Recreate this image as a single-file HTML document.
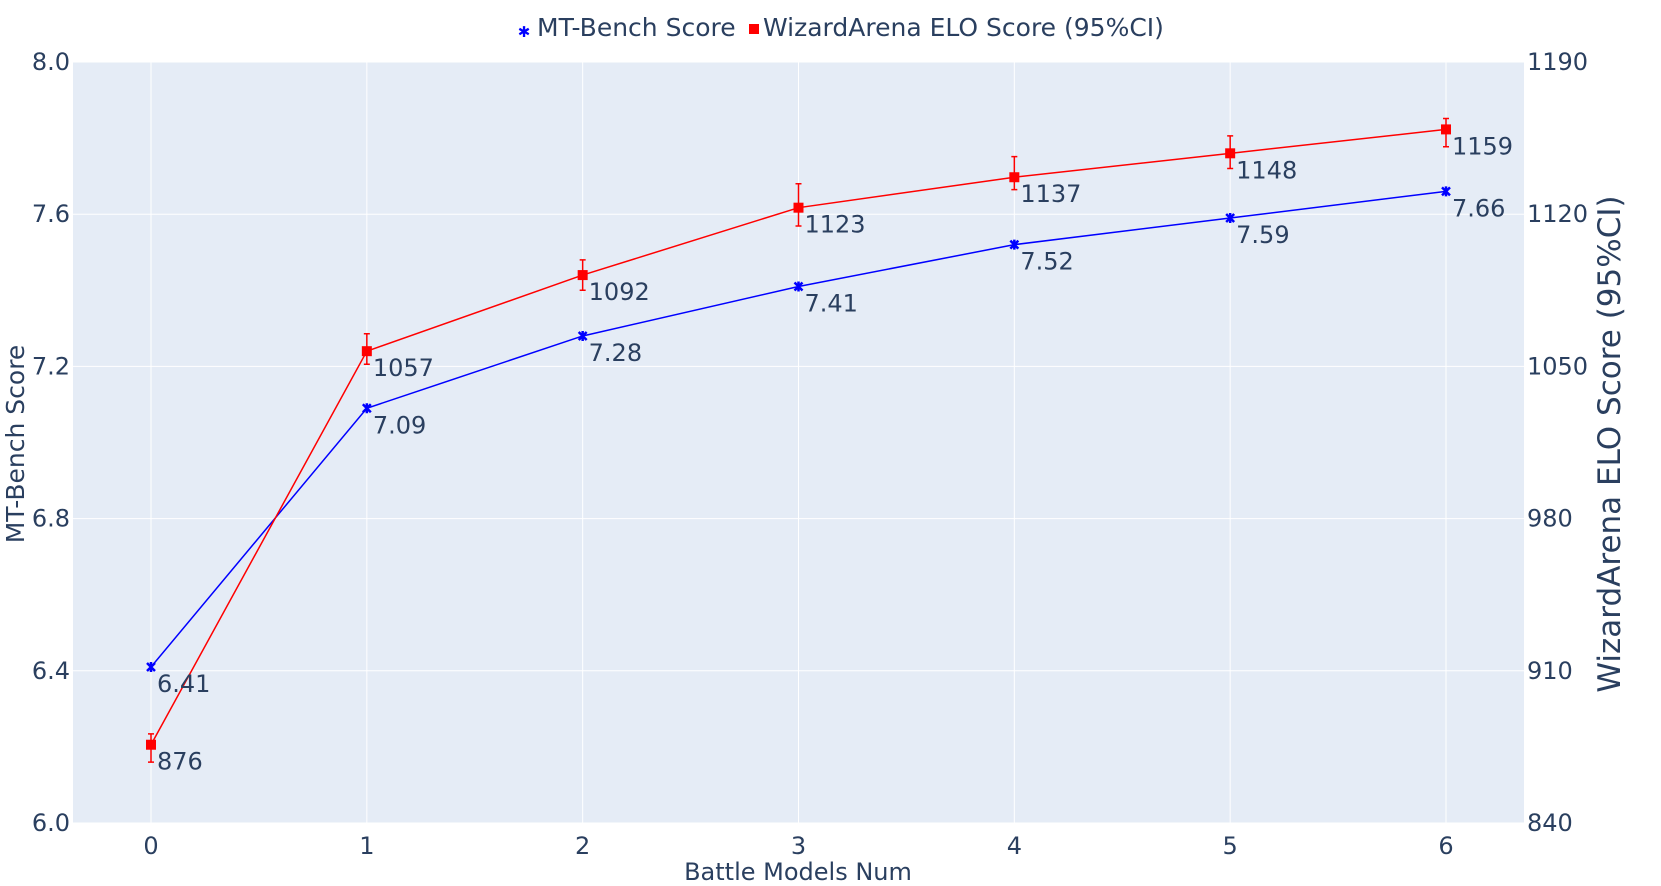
<!DOCTYPE html>
<html><head><meta charset="utf-8"><style>
html,body{margin:0;padding:0;background:#fff;}
svg{display:block;font-family:"DejaVu Sans","Liberation Sans",sans-serif;}
</style></head><body>
<svg id="chart" width="1661" height="886" xmlns="http://www.w3.org/2000/svg">
<rect x="73" y="62" width="1451" height="761" fill="#e5ecf6"/>
<g id="grid"></g>
<g id="axes"></g>
<g id="series"></g>
<g>
 <g>
  <text x="524" y="37" font-size="15" fill="#0000ff" text-anchor="middle" font-weight="bold">✱</text>
  <text x="537" y="36" font-size="25" fill="#2a3f5f">MT-Bench Score</text>
 </g>
 <g>
  <rect x="749" y="24" width="10" height="10" fill="#ff0000"/>
  <text x="763" y="36" font-size="25" fill="#2a3f5f">WizardArena ELO Score (95%CI)</text>
 </g>
</g>
<text x="798" y="880" font-size="24" fill="#2a3f5f" text-anchor="middle">Battle Models Num</text>
<text transform="translate(24,444) rotate(-90)" font-size="25" fill="#2a3f5f" text-anchor="middle">MT-Bench Score</text>
<text transform="translate(1620,444) rotate(-90)" font-size="31" fill="#2a3f5f" text-anchor="middle">WizardArena ELO Score (95%CI)</text>
</svg>
<script>
const categories=[0,1,2,3,4,5,6];
const mtBench=[6.41,7.09,7.28,7.41,7.52,7.59,7.66];
const elo=[876,1057,1092,1123,1137,1148,1159];
const eloPlus=[5,8,7,11,9.5,8,5];
const eloMinus=[8,6,7,8.4,5.7,7,8];
const xTicks=[0,1,2,3,4,5,6];
const yLeftTicks=[6.0,6.4,6.8,7.2,7.6,8.0];
const yRightTicks=[840,910,980,1050,1120,1190];

const NS="http://www.w3.org/2000/svg";
const L=73,R=1524,T=62,B=823;
const xs=v=>151+(v-0)*(1446-151)/6;
const yl=v=>B-(v-6)/(8-6)*(B-T);
const yr=v=>B-(v-840)/(1190-840)*(B-T);
function mk(tag,attrs,parent){const e=document.createElementNS(NS,tag);for(const k in attrs)e.setAttribute(k,attrs[k]);parent.appendChild(e);return e;}
const grid=document.getElementById('grid'),axes=document.getElementById('axes'),ser=document.getElementById('series');
xTicks.forEach(t=>{
 const g=mk('line',{x1:xs(t),x2:xs(t),y1:T,y2:B,stroke:'#fff','stroke-width':1},grid);
 
 
 const tx=mk('text',{x:xs(t),y:854,'font-size':24,fill:'#2a3f5f','text-anchor':'middle'},axes);
 tx.textContent=t;
 
 
});
yLeftTicks.forEach(t=>{
 const g=mk('line',{x1:L,x2:R,y1:yl(t),y2:yl(t),stroke:'#fff','stroke-width':1},grid);
 
 
 const tx=mk('text',{x:70,y:yl(t)+8,'font-size':24,fill:'#2a3f5f','text-anchor':'end'},axes);
 tx.textContent=t.toFixed(1);
 
 
});
yRightTicks.forEach(t=>{
 const tx=mk('text',{x:1527,y:yr(t)+8,'font-size':24,fill:'#2a3f5f'},axes);
 tx.textContent=t;
 
 
});
const bl=mk('polyline',{points:categories.map((c,i)=>xs(c)+','+yl(mtBench[i])).join(' '),fill:'none',stroke:'#0000ff','stroke-width':1.5},ser);


const rl=mk('polyline',{points:categories.map((c,i)=>xs(c)+','+yr(elo[i])).join(' '),fill:'none',stroke:'#ff0000','stroke-width':1.5},ser);


categories.forEach((c,i)=>{
 const x=xs(c),y=yl(mtBench[i]);
 const m=mk('path',{d:`M${x-4},${y-4}L${x+4},${y+4}M${x+4},${y-4}L${x-4},${y+4}M${x},${y-5}L${x},${y+5}`,stroke:'#0000ff','stroke-width':2.5},ser);
 
 
 const t=mk('text',{x:x+6,y:y+25,'font-size':24,fill:'#2a3f5f'},ser);
 t.textContent=mtBench[i].toFixed(2);
 
 
 const ry=yr(elo[i]),top=yr(elo[i]+eloPlus[i]),bot=yr(elo[i]-eloMinus[i]);
 const e=mk('path',{d:`M${x},${top}L${x},${bot}M${x-3},${top}L${x+3},${top}M${x-3},${bot}L${x+3},${bot}`,stroke:'#ff0000','stroke-width':1.5,fill:'none'},ser);
 
 
 const s=mk('rect',{x:x-5,y:ry-5,width:10,height:10,fill:'#ff0000'},ser);
 
 
 const t2=mk('text',{x:x+6,y:ry+25,'font-size':24,fill:'#2a3f5f'},ser);
 t2.textContent=elo[i];
 
 
});
</script>
</body></html>
